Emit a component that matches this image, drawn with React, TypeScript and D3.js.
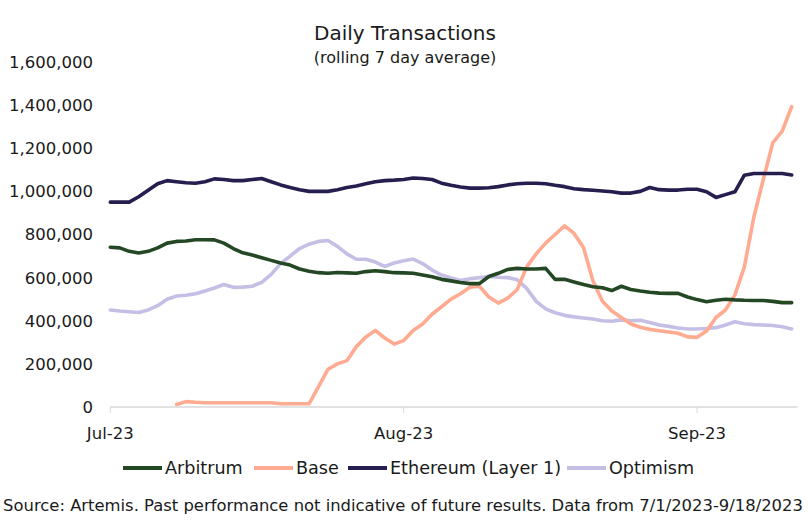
import React from "react";
import * as d3 from "d3";

const seriesNames = ["Arbitrum", "Base", "Ethereum (Layer 1)", "Optimism"];
const seriesColors = ["#254824", "#ffab91", "#261e4f", "#c5bfe6"];

// daily values (thousands), starting 2023-07-01
const arbitrum = [741, 738, 722, 714, 722, 738, 760, 768, 770, 776, 776, 775, 760, 735, 715, 705, 692, 680, 668, 658, 640, 630, 623, 620, 624, 622, 620, 628, 632, 628, 623, 622, 620, 612, 604, 592, 585, 577, 572, 572, 605, 620, 638, 643, 640, 640, 643, 592, 592, 580, 568, 558, 553, 540, 560, 545, 538, 532, 528, 527, 527, 510, 498, 488, 495, 500, 497, 495, 494, 494, 490, 484, 484];
const baseStart = 7;
const base = [12, 25, 22, 20, 20, 20, 20, 20, 20, 20, 20, 15, 15, 15, 15, 95, 175, 200, 215, 280, 325, 355, 320, 292, 308, 355, 385, 430, 465, 500, 525, 555, 560, 510, 482, 505, 545, 650, 710, 760, 800, 840, 805, 740, 585, 490, 445, 415, 385, 370, 360, 354, 348, 342, 325, 323, 352, 415, 450, 520, 650, 880, 1055, 1225, 1280, 1393];
const ethereum = [950, 950, 950, 975, 1005, 1035, 1050, 1045, 1040, 1038, 1045, 1058, 1055, 1050, 1050, 1055, 1060, 1045, 1030, 1018, 1008, 1000, 1000, 1000, 1008, 1018, 1025, 1035, 1045, 1050, 1052, 1055, 1062, 1060, 1055, 1038, 1028, 1020, 1015, 1015, 1017, 1022, 1030, 1035, 1038, 1038, 1035, 1028, 1022, 1012, 1008, 1005, 1002, 998, 992, 992, 1000, 1018, 1008, 1006, 1006, 1010, 1010, 998, 972, 985, 998, 1075, 1083, 1083, 1083, 1083, 1076];
const optimism = [450, 445, 442, 438, 450, 470, 500, 515, 518, 525, 538, 552, 568, 555, 556, 560, 578, 615, 665, 700, 735, 755, 768, 772, 745, 710, 685, 685, 672, 652, 668, 678, 686, 665, 635, 612, 598, 587, 595, 600, 605, 602, 600, 590, 550, 490, 455, 437, 425, 418, 413, 408, 400, 398, 404, 400, 402, 392, 380, 374, 366, 362, 362, 364, 368, 380, 395, 386, 382, 380, 378, 372, 362];

const yTicks = [0, 200000, 400000, 600000, 800000, 1000000, 1200000, 1400000, 1600000];
const xTickDates = [new Date(2023, 6, 1), new Date(2023, 7, 1), new Date(2023, 8, 1)];
const xTickFormat = d3.timeFormat("%b-%y");

const title = "Daily Transactions";
const subtitle = "(rolling 7 day average)";
const source = "Source: Artemis. Past performance not indicative of future results. Data from 7/1/2023-9/18/2023";

const W = 808;
const H = 522;
const FONT = "'DejaVu Sans', sans-serif";

function toPoints(vals: number[], start: number) {
  return vals.map((v, i) => ({ date: new Date(2023, 6, 1 + start + i), value: v * 1000 }));
}

export default function App() {
  const x = d3
    .scaleTime()
    .domain([new Date(2023, 6, 1), new Date(2023, 8, 11, 15)])
    .range([110.3, 797.6]);
  const y = d3.scaleLinear().domain([0, 1600000]).range([407, 62]);
  const line = d3
    .line<{ date: Date; value: number }>()
    .x((d) => x(d.date))
    .y((d) => y(d.value))
    .curve(d3.curveLinear);

  const series = [
    toPoints(arbitrum, 0),
    toPoints(base, baseStart),
    toPoints(ethereum, 0),
    toPoints(optimism, 0),
  ];
  const drawOrder = [3, 1, 0, 2];

  const legendX = [123, 254, 348, 567];

  return (
    <svg width={W} height={H} style={{ position: "absolute", left: 0, top: 0, background: "#fff" }} fontFamily={FONT}>
      <rect width={W} height={H} fill="#fff" />
      <text x={405} y={40} textAnchor="middle" fontSize={20} fill="#1a1a1a">
        {title}
      </text>
      <text x={405} y={63} textAnchor="middle" fontSize={16} fill="#1a1a1a">
        {subtitle}
      </text>
      {yTicks.map((t) => (
        <text key={t} x={93} y={y(t)} dy="0.36em" textAnchor="end" fontSize={16.5} fill="#1a1a1a">
          {d3.format(",")(t)}
        </text>
      ))}
      <line x1={x.range()[0]} x2={x.range()[1]} y1={y(0)} y2={y(0)} stroke="#d9d9d9" strokeWidth={1.5} />
      {xTickDates.map((d) => (
        <g key={d.getTime()}>
          <line x1={x(d)} x2={x(d)} y1={y(0)} y2={y(0) + 6} stroke="#d9d9d9" strokeWidth={1} />
          <text x={x(d)} y={439} textAnchor="middle" fontSize={16.5} fill="#1a1a1a">
            {xTickFormat(d)}
          </text>
        </g>
      ))}
      {drawOrder.map((i) => (
        <path
          key={i}
          d={line(series[i]) || ""}
          fill="none"
          stroke={seriesColors[i]}
          strokeWidth={3.6}
          strokeLinejoin="round"
          strokeLinecap="round"
        />
      ))}
      {seriesNames.map((n, i) => (
        <g key={n}>
          <line x1={legendX[i]} x2={legendX[i] + 39} y1={468} y2={468} stroke={seriesColors[i]} strokeWidth={4} />
          <text x={legendX[i] + 42} y={474} fontSize={17.6} fill="#1a1a1a">
            {n}
          </text>
        </g>
      ))}
      <text x={403} y={511} textAnchor="middle" fontSize={16.4} fill="#1a1a1a">
        {source}
      </text>
    </svg>
  );
}
